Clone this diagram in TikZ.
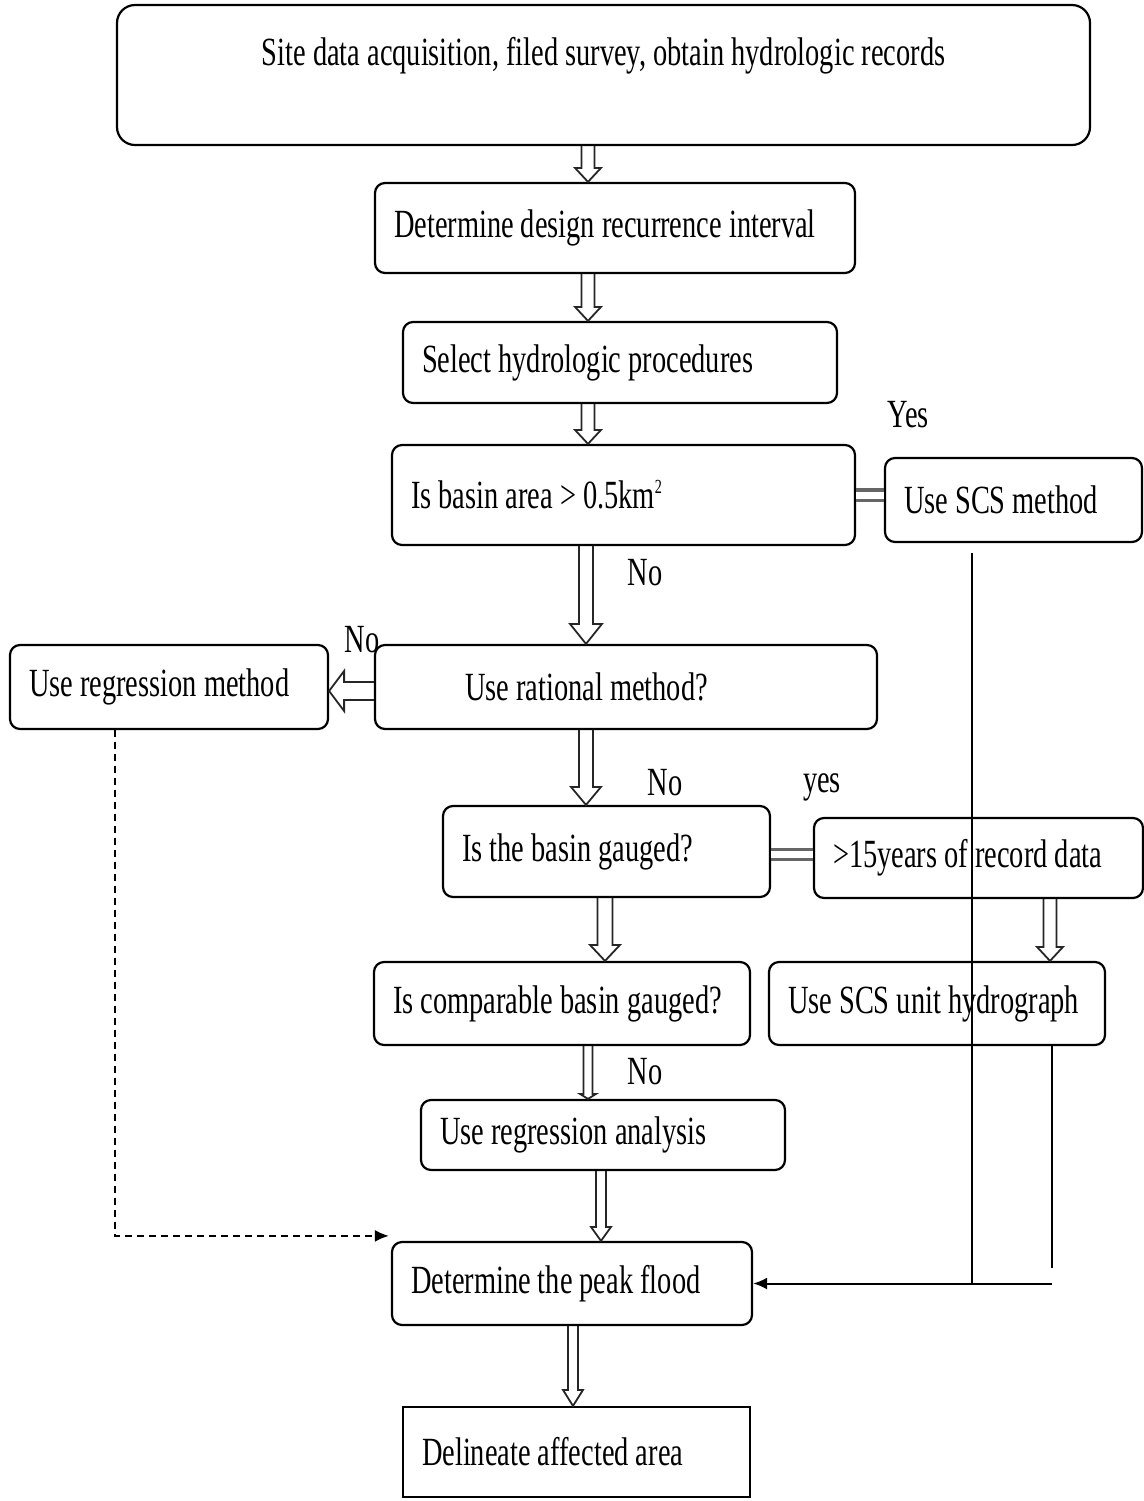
\documentclass[tikz,border=0pt]{standalone}
\usepackage{fontspec}
\setmainfont{Liberation Serif}[FakeStretch=0.71]
\usepackage{tikz}
\usetikzlibrary{arrows.meta, calc}
\def\boxLine{1.1pt}
\def\fontSize{\fontsize{20pt}{24pt}\selectfont}
\tikzset{
  % hollow block arrow pointing down: #1 = half shaft, #2 = half head, #3 = head length
  hdown/.style n args={3}{to path={
    (\tikztostart) coordinate (hS) (\tikztotarget) coordinate (hB) (hS -| hB) coordinate (hA)
    ($(hA)+(-#1,0)$) -- ($(hB)+(-#1,-#3)$) -- ($(hB)+(-#2,-#3)$) -- (hB)
    -- ($(hB)+(#2,-#3)$) -- ($(hB)+(#1,-#3)$) -- ($(hA)+(#1,0)$)}},
  % same one, pointing left
  hleft/.style n args={3}{to path={
    (\tikztostart) coordinate (hS) (\tikztotarget) coordinate (hB) (hB -| hS) coordinate (hA)
    ($(hA)+(0,-#1)$) -- ($(hB)+(#3,-#1)$) -- ($(hB)+(#3,-#2)$) -- (hB)
    -- ($(hB)+(#3,#2)$) -- ($(hB)+(#3,#1)$) -- ($(hA)+(0,#1)$)}}
}
\begin{document}
\begin{tikzpicture}[
    x=0.5pt, y=-0.5pt,
    font=\fontSize,
    box/.style={draw, line width=\boxLine, rounded corners=5pt, align=flush left,
      inner xsep=9.5pt, inner ysep=0pt, execute at begin node={\hyphenpenalty=10000}},
    lbl/.style={inner sep=0pt},
    harrow/.style={line width=0.9pt, draw=black!85},
    dline/.style={draw=black!60, line width=1.6pt, double=white, double distance=3.5pt},
    thinl/.style={line width=1pt}
]
\useasboundingbox (0,0) rectangle (1144,1501);

% boxes
\node[box, rounded corners=9pt, align=center, minimum width=486.5pt, minimum height=70pt] (1) at (603.5,75)
  {Site data acquisition, filed survey, obtain hydrologic records\\ \mbox{}};
\node[box, text width=221pt, minimum height=45pt] (2) at (615,228) {Determine design recurrence interval};
\node[box, text width=198pt, minimum height=40.5pt] (3) at (620,362.5) {Select hydrologic procedures};
\node[box, text width=212.5pt, minimum height=50pt] (4) at (623.5,495)
  {Is basin area > 0.5km\textsuperscript{\fontsize{10pt}{10pt}\selectfont 2}};
\node[box, text width=109.5pt, minimum height=42pt] (5) at (1013.5,500) {Use SCS method};
\node[box, inner xsep=45pt, text width=161pt, minimum height=42pt] (6) at (626,687) {Use rational method?};
\node[box, text width=140pt, minimum height=42pt] (7) at (169,687) {Use regression method};
\node[box, text width=144.5pt, minimum height=45.5pt] (8) at (606.5,851.5) {Is the basin gauged?};
\node[box, text width=145.5pt, minimum height=40pt] (9) at (978.5,858) {>15years of record data};
\node[box, text width=169pt, minimum height=41.5pt] (10) at (562,1003.5) {Is comparable basin gauged?};
\node[box, text width=149pt, minimum height=41.5pt] (11) at (937,1003.5) {Use SCS unit hydrograph};
\node[box, text width=163pt, minimum height=35pt] (12) at (603,1135) {Use regression analysis};
\node[box, text width=161pt, minimum height=41.5pt] (13) at (572,1283.5) {Determine the peak flood};
\node[box, sharp corners, text width=154.5pt, minimum height=45pt] (14) at (576.5,1452) {Delineate affected area};

% labels
\node[lbl] (yes1) at (908,415) {Yes};
\node[lbl] (no1) at (645,573) {No};
\node[lbl] (no2) at (362,640) {No};
\node[lbl] (no3) at (665,783) {No};
\node[lbl] (yes2) at (822,787) {yes};
\node[lbl] (no4) at (645,1072) {No};

% hollow arrows
\draw[harrow] (1.south) to[hdown={6.5}{13}{14}] ([xshift=-13.5pt]2.north);
\draw[harrow] (2.south) to[hdown={6.5}{13}{14}] ([xshift=-16pt]3.north);
\draw[harrow] (3.south) to[hdown={6.5}{13}{14}] ([xshift=-17.75pt]4.north);
\draw[harrow] (4.south) to[hdown={7}{16}{20}] ([xshift=-20pt]6.north);
\draw[harrow] (6.west) to[hleft={9}{20}{15}] ([yshift=-2pt]7.east);
\draw[harrow] (6.south) to[hdown={7}{15}{18}] ([xshift=-10.25pt]8.north);
\draw[harrow] (8.south) to[hdown={7.5}{15}{16}] ([xshift=21.5pt]10.north);
\draw[harrow] (9.south) to[hdown={6.5}{13}{14}] ([xshift=56.5pt]11.north);
\draw[harrow] (10.south) to[hdown={4.5}{8}{5}] ([xshift=-7.5pt]12.north);
\draw[harrow] (12.south) to[hdown={5}{10}{14}] ([xshift=14.5pt]13.north);
\draw[harrow] (13.south) to[hdown={5}{10}{16}] ([xshift=-1.75pt]14.north);

% double links
\draw[dline] (4.east) -- (4.east -| 5.west);
\draw[dline] ([yshift=-1.5pt]8.east) -- ([yshift=-1.5pt]8.east -| 9.west);

% thin lines into peak flood
\draw[thinl, -{Latex[length=7pt,width=6pt]}] ([shift={(-20.75pt,-5pt)}]5.south) |- (13.east);
\draw[thinl] ([xshift=57.5pt]11.south) -- ++(0,222);
\draw[thinl] ([xshift=57.5pt]11.south |- 13.east) -- ++(-80,0);
\draw[thinl, dash pattern=on 3.5pt off 2.5pt, -{Latex[length=7pt,width=6pt]}]
  ([xshift=-27pt]7.south) |- ([shift={(-1pt,2.5pt)}]13.north west);
\end{tikzpicture}
\end{document}
